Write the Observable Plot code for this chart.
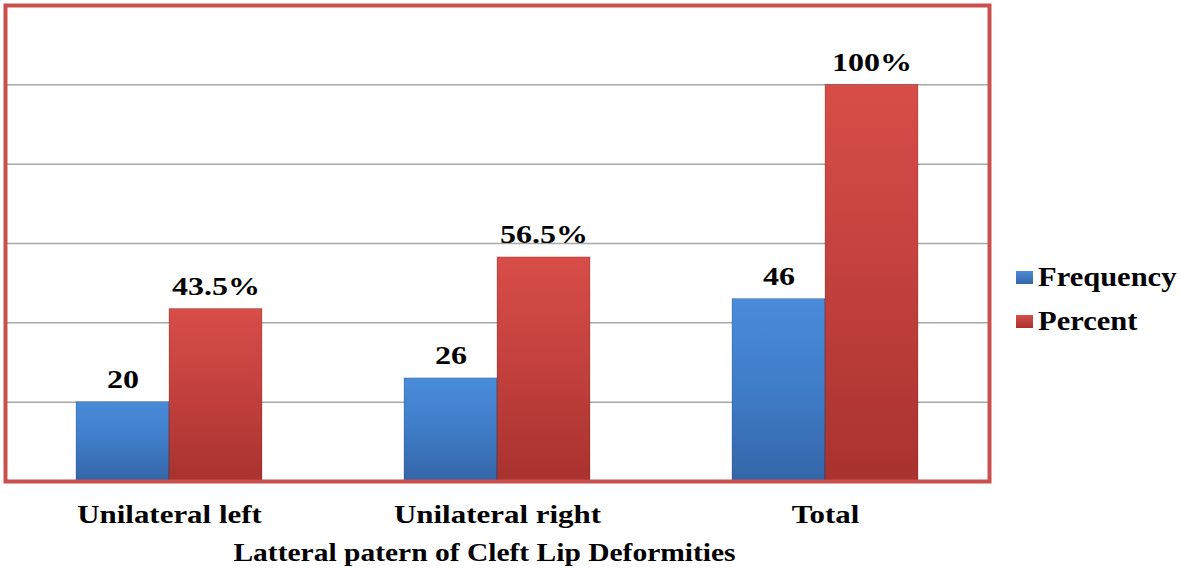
<!DOCTYPE html>
<html>
<head>
<meta charset="utf-8">
<script src="https://cdn.jsdelivr.net/npm/d3@7"></script>
<script src="https://cdn.jsdelivr.net/npm/@observablehq/plot@0.6"></script>
<style>
  html, body { margin: 0; padding: 0; background: #fff; }
  #wrap { position: relative; width: 1181px; height: 568px; font-family: "Liberation Serif", "DejaVu Serif", serif; }
  .leg { position: absolute; left: 1016px; display: flex; align-items: center; font-weight: bold; font-size: 27px; color: #000; }
  .leg .sw { width: 17px; height: 13px; margin-right: 5px; }
  .leg .tx { display: inline-block; transform: scaleX(1.13); transform-origin: left center; }
</style>
</head>
<body>
<div id="wrap"></div>
<script>
const categories = ["Unilateral left", "Unilateral right", "Total"];
const series = ["Frequency", "Percent"];
const frequency = [20, 26, 46];
const percent = [43.5, 56.5, 100];
const percentLabels = ["43.5%", "56.5%", "100%"];
const frequencyLabels = ["20", "26", "46"];
const gridTicks = [20, 40, 60, 80, 100];
const xTitle = "Latteral patern of Cleft Lip Deformities";

const data = [];
categories.forEach((c, i) => {
  data.push({category: c, series: "Frequency", value: frequency[i], label: frequencyLabels[i]});
  data.push({category: c, series: "Percent", value: percent[i], label: percentLabels[i]});
});

const serif = "'Liberation Serif', 'DejaVu Serif', serif";

const chart = Plot.plot({
  width: 1181,
  height: 568,
  marginLeft: 4,
  marginRight: 191,
  marginTop: 5,
  marginBottom: 87,
  style: {fontFamily: serif, background: "#fff", overflow: "visible"},
  fx: {domain: categories, padding: 0, axis: null},
  x: {domain: series, paddingInner: 0, paddingOuter: 0.75, axis: null},
  y: {domain: [0, 120], axis: null},
  color: {domain: series, range: ["url(#gBlue)", "url(#gRed)"]},
  marks: [
    Plot.gridY(gridTicks, {stroke: "#A8A8A8", strokeOpacity: 1, strokeWidth: 1.5}),
    Plot.barY(data, {fx: "category", x: "series", y: "value", fill: "series", inset: 0, stroke: "rgba(0,0,0,0.18)", strokeWidth: 1}),
    Plot.text(data, {fx: "category", x: "series", y: "value", text: "label", lineAnchor: "bottom", dy: -14,
      fontSize: 25, fontWeight: "bold", fontFamily: serif, fill: "#000", className: "barlab"}),
    Plot.axisFx({domain: categories, anchor: "bottom", tickSize: 0, tickPadding: 23, label: null,
      fontSize: 26, fontWeight: "bold", fontFamily: serif, fill: "#000", className: "ticklab"}),
    Plot.text([xTitle], {facet: "super", frameAnchor: "bottom", dy: 79, dx: -13, lineAnchor: "bottom",
      fontSize: 25, fontWeight: "bold", fontFamily: serif, fill: "#000", className: "xtitle"}),
    Plot.frame({facet: "super", stroke: "#C9504D", strokeWidth: 4})
  ]
});

// gradients
const ns = "http://www.w3.org/2000/svg";
const defs = document.createElementNS(ns, "defs");
function grad(id, stops) {
  const g = document.createElementNS(ns, "linearGradient");
  g.setAttribute("id", id);
  g.setAttribute("x1", "0"); g.setAttribute("y1", "0");
  g.setAttribute("x2", "0"); g.setAttribute("y2", "1");
  stops.forEach(([o, c]) => {
    const s = document.createElementNS(ns, "stop");
    s.setAttribute("offset", o); s.setAttribute("stop-color", c);
    g.appendChild(s);
  });
  defs.appendChild(g);
}
grad("gBlue", [["0", "#4A8CDA"], ["0.5", "#3F7CC8"], ["1", "#3565A8"]]);
grad("gRed", [["0", "#D84D48"], ["0.5", "#C2403C"], ["1", "#A8322F"]]);
chart.insertBefore(defs, chart.firstChild);

const wrap = document.getElementById("wrap");
wrap.appendChild(chart);

// horizontal stretch of the text, as in the reference
const stretch = {barlab: 1.28, ticklab: 1.19, xtitle: 1.18};
Object.entries(stretch).forEach(([cls, f]) => {
  chart.querySelectorAll("." + cls + " text").forEach(t => {
    const len = t.getComputedTextLength();
    t.setAttribute("textLength", (len * f).toFixed(1));
    t.setAttribute("lengthAdjust", "spacingAndGlyphs");
  });
});

// legend
const legendColors = {Frequency: "linear-gradient(#4A8CDA, #3565A8)", Percent: "linear-gradient(#D84D48, #A8322F)"};
const legendTops = [262, 306];
series.forEach((s, i) => {
  const d = document.createElement("div");
  d.className = "leg";
  d.style.top = legendTops[i] + "px";
  d.innerHTML = `<span class="sw" style="background:${legendColors[s]}"></span><span class="tx">${s}</span>`;
  wrap.appendChild(d);
});
</script>
</body>
</html>
